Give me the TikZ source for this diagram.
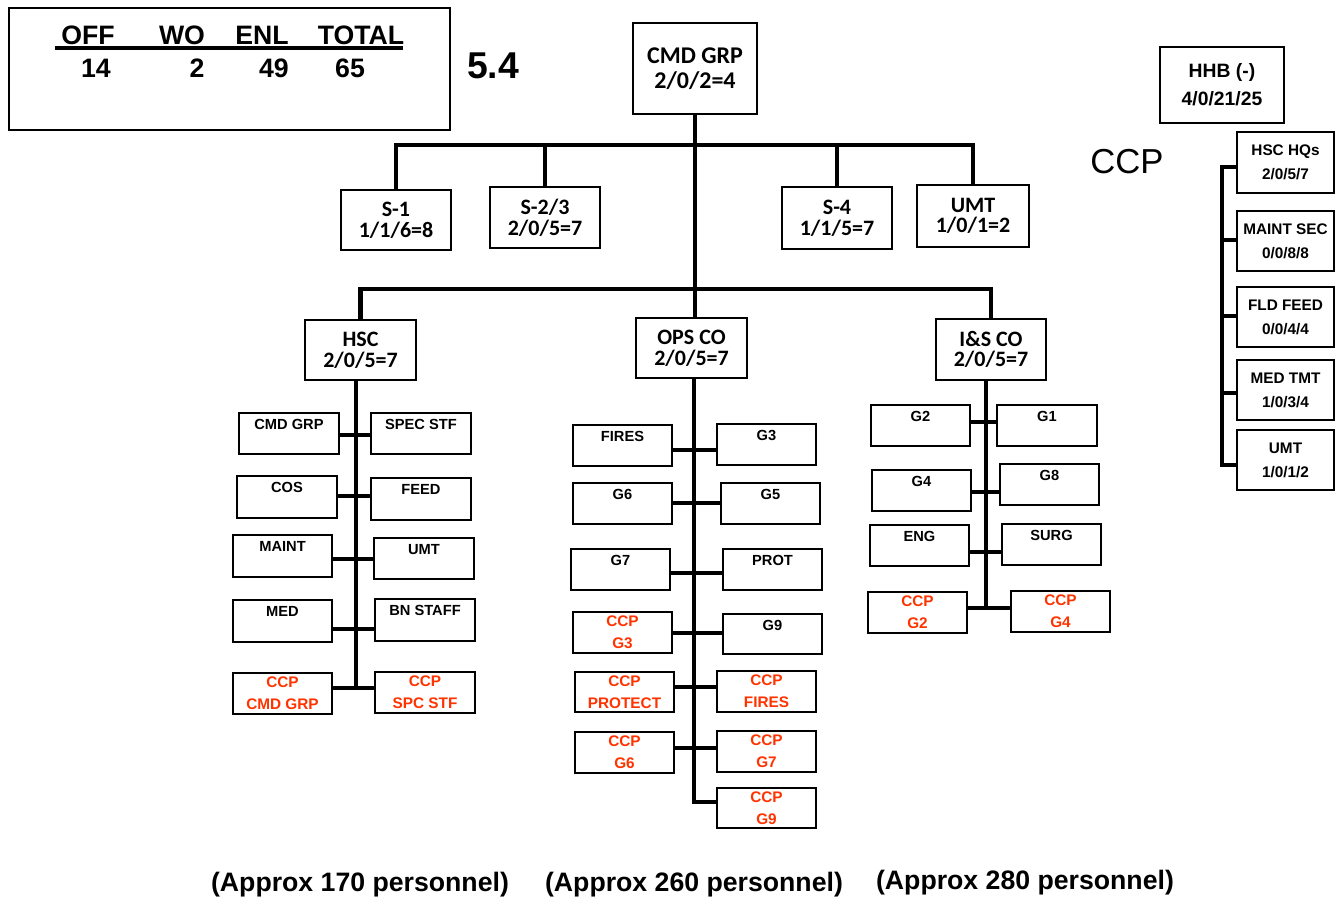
\documentclass[tikz,border=0pt]{standalone}
\usepackage{fontspec}
\setmainfont{Liberation Sans}
\newfontfamily\calfont{Carlito}
\definecolor{ccp}{RGB}{255,51,0}
\newcommand\ubox[7][]{\node[#1, minimum width={(#5-#3)*0.75pt}, minimum height={(#6-#4)*0.75pt}] (#2) at ({(#3+#5)/2},{(#4+#6)/2}) {#7};}
\begin{document}
\begin{tikzpicture}[x=0.75pt,y=-0.75pt,
  conn/.style={line width=3.2pt},
  sconn/.style={line width=2.4pt},
  box/.style={draw,line width=0.9pt,inner sep=0pt,align=center},
  calbox/.style={box,font=\calfont\bfseries\fontsize{16.5}{15.5}\selectfont},
  toplab/.style={anchor=base,yshift=-12.5pt,inner sep=0pt,font=\bfseries\fontsize{11}{13}\selectfont},
  redbox/.style={box,text=ccp,font=\bfseries\fontsize{11.5}{16.5}\selectfont},
  hbox/.style={box,font=\bfseries\fontsize{11.5}{18}\selectfont},
  hdr/.style={font=\bfseries\fontsize{20}{24}\selectfont,inner sep=0pt},
  capt/.style={font=\bfseries\fontsize{20}{24}\selectfont,inner sep=0pt},
]
\useasboundingbox (0,0) rectangle (1341,899);

% summary
\ubox[box,line width=0.8pt]{sum}{9}{8}{450}{130}{}
\node[hdr] (hoff) at (88,35) {OFF};
\node[hdr] (hwo) at (182,35) {WO};
\node[hdr] (henl) at (262,35) {ENL};
\node[hdr] (htot) at (361,35) {TOTAL};
\draw[line width=3pt] (55,48) -- (403,48);
\node[hdr] (noff) at (96,68) {14};
\node[hdr] (nwo) at (197,68) {2};
\node[hdr] (nenl) at (274,68) {49};
\node[hdr] (ntot) at (350,68) {65};
\node[font=\bfseries\fontsize{28}{30}\selectfont,inner sep=0pt] (ver) at (493,66) {5.4};

% top level
\ubox[box,font=\calfont\bfseries\fontsize{18}{19}\selectfont]{cmd}{633}{23}{757}{114}{CMD GRP\\2/0/2=4}
\ubox[calbox]{s1}{341}{190}{451}{250}{S-1\\1/1/6=8}
\ubox[calbox]{s23}{490}{187}{600}{248}{S-2/3\\2/0/5=7}
\ubox[calbox]{s4}{782}{187}{892}{249}{S-4\\1/1/5=7}
\ubox[calbox]{umt}{917}{185}{1029}{247}{UMT\\1/0/1=2}
\ubox[calbox]{hsc}{305}{320}{416}{380}{HSC\\2/0/5=7}
\ubox[calbox]{ops}{636}{318}{747}{378}{OPS CO\\2/0/5=7}
\ubox[calbox]{is}{936}{319}{1046}{380}{I\&S CO\\2/0/5=7}

\coordinate (bar) at (695,145);
\coordinate (bar2) at (695,289);
\draw[conn] (s1.north) |- (bar) -| (umt.north);
\draw[conn] (s23.north) -- (s23.north |- bar);
\draw[conn] (s4.north) -- (s4.north |- bar);
\draw[conn] (cmd.south) -- (cmd.south |- ops.north);
\draw[conn] (hsc.north) |- (bar2) -| (is.north);

% HSC children
\ubox[box,label={[toplab]north:CMD GRP}]{hL1}{239}{413}{339}{454}{}
\ubox[box,label={[toplab]north:SPEC STF}]{hR1}{371}{413}{471}{454}{}
\ubox[box,label={[toplab]north:COS}]{hL2}{237}{476}{337}{518}{}
\ubox[box,label={[toplab]north:FEED}]{hR2}{371}{478}{471}{520}{}
\ubox[box,label={[toplab]north:MAINT}]{hL3}{233}{535}{332}{577}{}
\ubox[box,label={[toplab]north:UMT}]{hR3}{374}{538}{474}{579}{}
\ubox[box,label={[toplab]north:MED}]{hL4}{233}{600}{332}{642}{}
\ubox[box,label={[toplab]north:BN STAFF}]{hR4}{375}{599}{475}{641}{}
\ubox[redbox]{hL5}{233}{673}{332}{714}{CCP\\CMD GRP}
\ubox[redbox]{hR5}{375}{672}{475}{713}{CCP\\SPC STF}
\coordinate (hr1) at (356,435);
\coordinate (hr2) at (356,496);
\coordinate (hr3) at (356,559);
\coordinate (hr4) at (356,629);
\coordinate (hr5) at (356,688);
\draw[sconn] (hsc.south -| hr5) -- (hr5);
\foreach \i in {1,...,5}{\draw[sconn] (hL\i.east |- hr\i) -- (hR\i.west |- hr\i);}

% OPS children
\ubox[box,label={[toplab]north:FIRES}]{oL1}{573}{425}{672}{466}{}
\ubox[box,label={[toplab]north:G3}]{oR1}{717}{424}{816}{465}{}
\ubox[box,label={[toplab]north:G6}]{oL2}{573}{483}{672}{524}{}
\ubox[box,label={[toplab]north:G5}]{oR2}{721}{483}{820}{524}{}
\ubox[box,label={[toplab]north:G7}]{oL3}{571}{549}{670}{590}{}
\ubox[box,label={[toplab]north:PROT}]{oR3}{723}{549}{822}{590}{}
\ubox[redbox]{oL4}{573}{612}{672}{653}{CCP\\G3}
\ubox[box,label={[toplab]north:G9}]{oR4}{723}{614}{822}{654}{}
\ubox[redbox]{oL5}{575}{672}{674}{712}{CCP\\PROTECT}
\ubox[redbox]{oR5}{717}{671}{816}{712}{CCP\\FIRES}
\ubox[redbox]{oL6}{575}{732}{674}{773}{CCP\\G6}
\ubox[redbox]{oR6}{717}{731}{816}{772}{CCP\\G7}
\ubox[redbox]{oR7}{717}{788}{816}{828}{CCP\\G9}
\coordinate (or1) at (694,450);
\coordinate (or2) at (694,503);
\coordinate (or3) at (694,573);
\coordinate (or4) at (694,633);
\coordinate (or5) at (694,687);
\coordinate (or6) at (694,748);
\coordinate (or7) at (694,802);
\draw[sconn] (ops.south -| or7) -- (or7) -- (oR7.west |- or7);
\foreach \i in {1,...,6}{\draw[sconn] (oL\i.east |- or\i) -- (oR\i.west |- or\i);}

% I&S children
\ubox[box,label={[toplab]north:G2}]{iL1}{871}{405}{970}{446}{}
\ubox[box,label={[toplab]north:G1}]{iR1}{997}{405}{1097}{446}{}
\ubox[box,label={[toplab]north:G4}]{iL2}{872}{470}{971}{511}{}
\ubox[box,label={[toplab]north:G8}]{iR2}{1000}{464}{1099}{505}{}
\ubox[box,label={[toplab]north:ENG}]{iL3}{870}{525}{969}{566}{}
\ubox[box,label={[toplab]north:SURG}]{iR3}{1002}{524}{1101}{565}{}
\ubox[redbox]{iL4}{868}{592}{967}{633}{CCP\\G2}
\ubox[redbox]{iR4}{1011}{591}{1110}{632}{CCP\\G4}
\coordinate (ir1) at (986,422);
\coordinate (ir2) at (986,492);
\coordinate (ir3) at (986,552);
\coordinate (ir4) at (986,608);
\draw[sconn] (is.south -| ir4) -- (ir4);
\foreach \i in {1,...,4}{\draw[sconn] (iL\i.east |- ir\i) -- (iR\i.west |- ir\i);}

% HHB
\ubox[box,font=\bfseries\fontsize{14.5}{21}\selectfont]{hhb}{1160}{47}{1284}{123}{HHB (-)\\4/0/21/25}
\node[font=\fontsize{26}{30}\selectfont,inner sep=0pt] (ccpbig) at (1127,162) {CCP};
\ubox[hbox]{q1}{1237}{132}{1334}{193}{HSC HQs\\2/0/5/7}
\ubox[hbox]{q2}{1237}{211}{1334}{271}{MAINT SEC\\0/0/8/8}
\ubox[hbox]{q3}{1237}{287}{1334}{347}{FLD FEED\\0/0/4/4}
\ubox[hbox]{q4}{1237}{360}{1334}{420}{MED TMT\\1/0/3/4}
\ubox[hbox]{q5}{1237}{430}{1334}{490}{UMT\\1/0/1/2}
\coordinate (r1) at (1222,167);
\coordinate (r2) at (1222,240);
\coordinate (r3) at (1222,316);
\coordinate (r4) at (1222,393);
\coordinate (r5) at (1222,465);
\draw[sconn] (q1.west |- r1) -- (r1) -- (r5) -- (q5.west |- r5);
\foreach \i in {2,3,4}{\draw[sconn] (r\i) -- (q\i.west |- r\i);}

% captions
\node[capt] (cap1) at (360,885) {(Approx 170 personnel)};
\node[capt] (cap2) at (694,885) {(Approx 260 personnel)};
\node[capt] (cap3) at (1025,883) {(Approx 280 personnel)};
\end{tikzpicture}
\end{document}
